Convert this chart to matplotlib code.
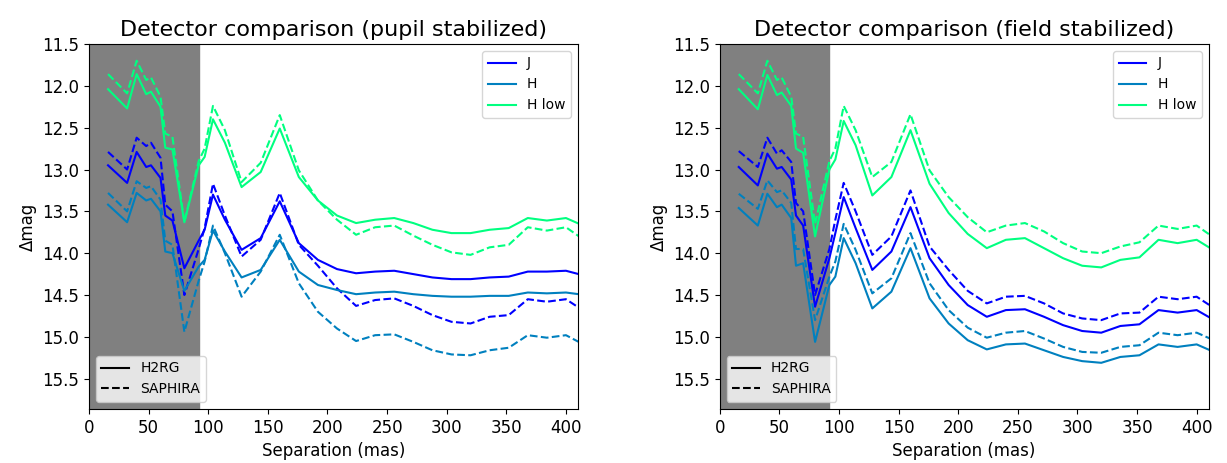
import matplotlib.pyplot as plt
from matplotlib.lines import Line2D
import numpy as np

# separation grid (mas)
sep = [16, 32, 40, 48, 52, 60, 64, 70, 80, 92, 97, 104, 114, 128, 144, 160, 176,
       192, 208, 224, 240, 256, 272, 288, 304, 320, 336, 352, 368, 384, 400, 416]

bands = ['J', 'H', 'H low']
detectors = ['H2RG', 'SAPHIRA']
fov_edge = 92  # mas, shaded region

# pupil stabilized
pupil_J_h2rg = [12.95, 13.16, 12.79, 12.97, 12.95, 13.10, 13.55, 13.61, 14.18, 13.85, 13.72, 13.30, 13.60,
                13.96, 13.82, 13.38, 13.88, 14.08, 14.19, 14.24, 14.22, 14.21, 14.25, 14.29, 14.31, 14.31,
                14.29, 14.28, 14.22, 14.22, 14.21, 14.27]
pupil_J_saph = [12.79, 13.00, 12.62, 12.72, 12.68, 12.86, 13.42, 13.50, 14.50, 13.95, 13.70, 13.17, 13.55,
                14.04, 13.84, 13.28, 13.90, 14.15, 14.42, 14.63, 14.56, 14.54, 14.63, 14.74, 14.82, 14.84,
                14.76, 14.74, 14.55, 14.58, 14.55, 14.70]
pupil_H_h2rg = [13.42, 13.63, 13.28, 13.37, 13.35, 13.50, 13.98, 14.00, 14.45, 14.16, 14.08, 13.73, 13.98,
                14.29, 14.20, 13.84, 14.22, 14.38, 14.44, 14.49, 14.47, 14.46, 14.49, 14.51, 14.52, 14.52,
                14.51, 14.51, 14.47, 14.48, 14.47, 14.50]
pupil_H_saph = [13.28, 13.50, 13.14, 13.22, 13.20, 13.36, 13.85, 13.90, 14.94, 14.33, 14.10, 13.67, 14.00,
                14.52, 14.22, 13.78, 14.36, 14.70, 14.90, 15.05, 14.98, 14.97, 15.06, 15.16, 15.21, 15.22,
                15.16, 15.13, 14.98, 15.01, 14.98, 15.10]
pupil_Hlow_h2rg = [12.04, 12.27, 11.86, 12.10, 12.07, 12.25, 12.74, 12.76, 13.63, 12.95, 12.85, 12.40, 12.68,
                   13.21, 13.03, 12.51, 13.09, 13.37, 13.55, 13.64, 13.60, 13.58, 13.64, 13.72, 13.76, 13.76,
                   13.72, 13.70, 13.58, 13.61, 13.58, 13.68]
pupil_Hlow_saph = [11.86, 12.09, 11.70, 11.93, 11.90, 12.13, 12.57, 12.61, 13.63, 12.90, 12.75, 12.24, 12.53,
                   13.15, 12.92, 12.35, 13.01, 13.37, 13.60, 13.78, 13.69, 13.67, 13.79, 13.90, 13.99, 14.02,
                   13.93, 13.90, 13.69, 13.73, 13.69, 13.85]

# field stabilized
field_J_h2rg = [12.97, 13.19, 12.81, 12.99, 12.97, 13.12, 13.55, 13.67, 14.64, 14.06, 13.76, 13.33, 13.70,
                14.20, 13.98, 13.45, 14.06, 14.38, 14.62, 14.76, 14.68, 14.67, 14.76, 14.86, 14.93, 14.95,
                14.87, 14.85, 14.68, 14.71, 14.68, 14.81]
field_J_saph = [12.78, 12.97, 12.62, 12.81, 12.77, 12.91, 13.40, 13.50, 14.50, 13.95, 13.60, 13.16, 13.50,
                14.02, 13.80, 13.25, 13.92, 14.20, 14.45, 14.60, 14.52, 14.51, 14.60, 14.72, 14.78, 14.80,
                14.72, 14.71, 14.52, 14.55, 14.52, 14.67]
field_H_h2rg = [13.46, 13.67, 13.29, 13.45, 13.42, 13.58, 14.15, 14.12, 15.06, 14.38, 14.28, 13.82, 14.12,
                14.66, 14.46, 13.94, 14.54, 14.84, 15.04, 15.15, 15.09, 15.08, 15.16, 15.24, 15.29, 15.31,
                15.24, 15.22, 15.09, 15.12, 15.09, 15.19]
field_H_saph = [13.29, 13.47, 13.13, 13.27, 13.25, 13.40, 13.95, 13.95, 14.80, 14.28, 14.10, 13.65, 13.96,
                14.48, 14.30, 13.76, 14.36, 14.68, 14.89, 15.01, 14.95, 14.93, 15.02, 15.12, 15.18, 15.19,
                15.12, 15.10, 14.95, 14.98, 14.95, 15.05]
field_Hlow_h2rg = [12.04, 12.28, 11.87, 12.11, 12.08, 12.24, 12.75, 12.80, 13.80, 13.00, 12.88, 12.42, 12.71,
                   13.31, 13.09, 12.53, 13.17, 13.52, 13.77, 13.94, 13.84, 13.82, 13.94, 14.06, 14.15, 14.17,
                   14.08, 14.05, 13.84, 13.88, 13.84, 13.98]
field_Hlow_saph = [11.86, 12.09, 11.70, 11.93, 11.90, 12.13, 12.57, 12.61, 13.65, 12.90, 12.75, 12.24, 12.53,
                   13.09, 12.91, 12.34, 13.01, 13.33, 13.57, 13.75, 13.67, 13.64, 13.74, 13.88, 13.98, 14.00,
                   13.92, 13.87, 13.67, 13.71, 13.67, 13.83]

panels = [
    ("Detector comparison (pupil stabilized)",
     [(pupil_J_h2rg, pupil_J_saph), (pupil_H_h2rg, pupil_H_saph), (pupil_Hlow_h2rg, pupil_Hlow_saph)]),
    ("Detector comparison (field stabilized)",
     [(field_J_h2rg, field_J_saph), (field_H_h2rg, field_H_saph), (field_Hlow_h2rg, field_Hlow_saph)]),
]

colors = plt.cm.winter(np.linspace(0, 1, len(bands)))

fig, axes = plt.subplots(1, 2, figsize=(12.27, 4.63), dpi=100)
plt.subplots_adjust(left=0.0725, right=0.985, top=0.905, bottom=0.117, wspace=0.29)

for ax, (title, curves) in zip(axes, panels):
    ax.axvspan(0, fov_edge, color='gray', zorder=0)
    for c, (solid, dashed) in zip(colors, curves):
        ax.plot(sep, solid, color=c, lw=1.5, ls='-')
        ax.plot(sep, dashed, color=c, lw=1.5, ls='--')
    ax.set_xlim(0, 410)
    ax.set_ylim(15.86, 11.5)
    ax.set_yticks(np.arange(11.5, 15.6, 0.5))
    ax.tick_params(labelsize=12)
    ax.set_xlabel("Separation (mas)", fontsize=12)
    ax.set_ylabel("Δmag", fontsize=12)
    ax.set_title(title, fontsize=16)

    band_handles = [Line2D([], [], color=c, lw=1.5) for c in colors]
    leg1 = ax.legend(band_handles, bands, loc='upper right', fontsize=10)
    ax.add_artist(leg1)
    det_handles = [Line2D([], [], color='k', lw=1.5, ls='-'),
                   Line2D([], [], color='k', lw=1.5, ls='--')]
    ax.legend(det_handles, detectors, loc='lower left', fontsize=10)

plt.savefig('out.png')
